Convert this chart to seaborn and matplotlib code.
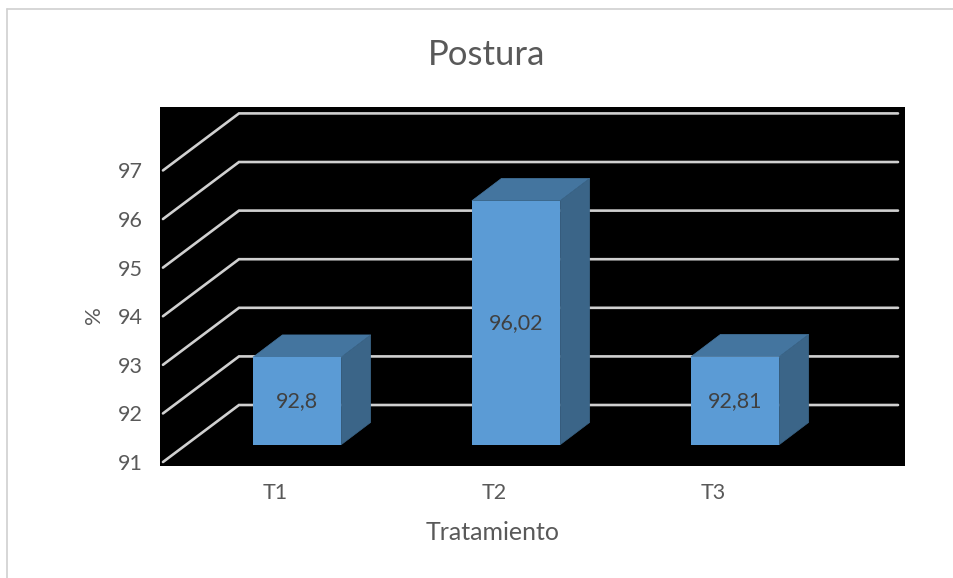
import matplotlib
matplotlib.use("Agg")
import matplotlib.pyplot as plt
from matplotlib.lines import Line2D
from matplotlib.patches import Polygon
import pandas as pd
import seaborn as sns

# Chart data
tratamientos = ["T1", "T2", "T3"]
postura = [92.8, 96.02, 92.81]
etiquetas = ["92,8", "96,02", "92,81"]
niveles = [91, 92, 93, 94, 95, 96, 97]

# Pseudo-3D geometry, in axis units
BASE = 91
DEPTH_X = 0.1347
DEPTH_Y = 0.459
FRONT_SHIFT = -0.356      # front edge of the floor relative to the bar plane
BACK_SHIFT = 0.817        # back wall relative to the bar plane
WALL_LEFT = -0.265
WALL_RIGHT = 2.744
FRONT_LEFT = -0.612

TEXT = "#595959"
GRID = "#d0d0d0"
FACE = "#5b9bd5"
TOP = "#44759f"
SIDE = "#3b6588"

sns.set_style("white")
plt.rcParams["font.family"] = ["Lato", "DejaVu Sans"]

W, H = 954, 578
fig = plt.figure(figsize=(W / 100, H / 100), dpi=100, facecolor="white")
ax = fig.add_axes([160 / W, 1 - 466 / H, 745 / W, 359 / H], facecolor="black")

# Back wall and floor lines
for nivel in niveles:
    ax.plot([FRONT_LEFT, WALL_LEFT, WALL_RIGHT],
            [nivel + FRONT_SHIFT, nivel + BACK_SHIFT, nivel + BACK_SHIFT],
            color=GRID, lw=1.9, zorder=1, solid_joinstyle="miter")

# Front faces of the bars
df = pd.DataFrame({"tratamiento": tratamientos,
                   "altura": [v - BASE for v in postura]})
sns.barplot(data=df, x="tratamiento", y="altura", bottom=BASE, width=0.403,
            color=FACE, saturation=1, linewidth=0, ax=ax, zorder=4)

# Top and side faces derived from each bar's rectangle
for rect in ax.containers[0]:
    x0, x1 = rect.get_x(), rect.get_x() + rect.get_width()
    y0, y1 = rect.get_y(), rect.get_y() + rect.get_height()
    ax.add_patch(Polygon([(x0, y1), (x1, y1), (x1 + DEPTH_X, y1 + DEPTH_Y),
                          (x0 + DEPTH_X, y1 + DEPTH_Y)],
                         closed=True, fc=TOP, ec=TOP, lw=0.5, zorder=3))
    ax.add_patch(Polygon([(x1, y0), (x1, y1), (x1 + DEPTH_X, y1 + DEPTH_Y),
                          (x1 + DEPTH_X, y0 + DEPTH_Y)],
                         closed=True, fc=SIDE, ec=SIDE, lw=0.5, zorder=3))

ax.bar_label(ax.containers[0], labels=etiquetas, label_type="center",
             color="#404040", fontsize=15.5, zorder=6)

ax.set_xlim(-0.6256, 2.776)
ax.set_ylim(90.562, 97.949)

ax.set_yticks([n + FRONT_SHIFT for n in niveles], [str(n) for n in niveles])
ax.set_xticks([i - 0.1 for i in range(len(tratamientos))], tratamientos)
ax.tick_params(axis="y", length=0, pad=12.5, labelsize=15.5, labelcolor=TEXT)
ax.tick_params(axis="x", length=0, pad=12.5, labelsize=15.5, labelcolor=TEXT)

ax.set_xlabel("Tratamiento", fontsize=18, color=TEXT, va="center")
ax.xaxis.set_label_coords(0.447, -0.184)
ax.set_ylabel("%", fontsize=16, color=TEXT, va="center")
ax.yaxis.set_label_coords(-0.0886, 0.42)
ax.set_title("Postura", fontsize=25, color=TEXT, x=0.439, y=1.146, va="center", pad=0)

for side in ax.spines.values():
    side.set_visible(False)

# Chart frame along the top and left edges
fig.add_artist(Line2D([7 / W, 1], [1 - 9 / H, 1 - 9 / H], color=GRID, lw=1.2))
fig.add_artist(Line2D([7 / W, 7 / W], [0, 1 - 9 / H], color=GRID, lw=1.2))

fig.savefig("out.png", dpi=100)
